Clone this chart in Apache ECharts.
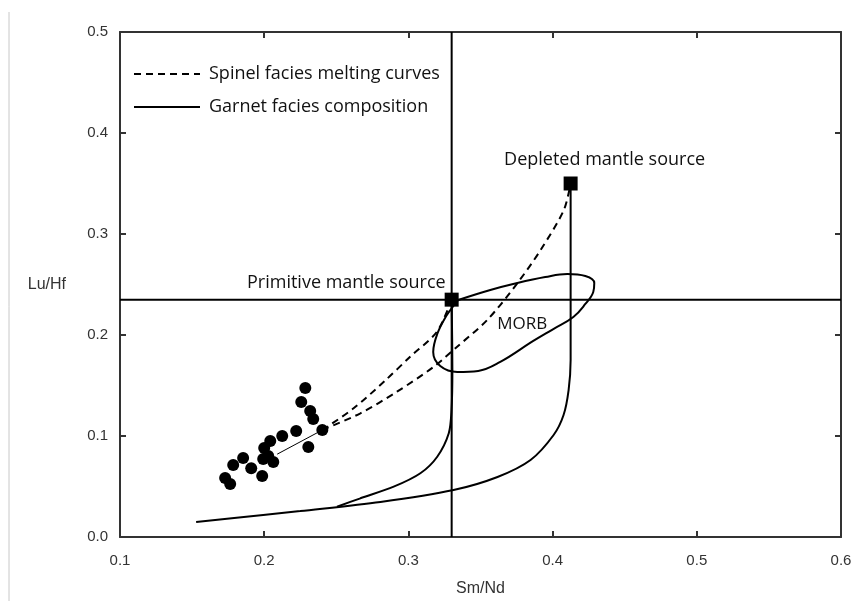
<!DOCTYPE html>
<html>
<head>
<meta charset="utf-8">
<title>Lu/Hf vs Sm/Nd</title>
<script src="https://cdn.jsdelivr.net/npm/echarts@6/dist/echarts.min.js"></script>
<style>
  html, body { margin: 0; padding: 0; background: #fff; }
  #chart { width: 853px; height: 601px; }
</style>
</head>
<body>
<div id="chart"></div>
<script>
// axis ticks
const xTicks = { min: 0.1, max: 0.6, interval: 0.1 }
const yTicks = { min: 0, max: 0.5, interval: 0.1 }

// sample points (Sm/Nd, Lu/Hf)
const samples = [
  [0.2285, 0.1475], [0.2257, 0.1337], [0.2319, 0.1248], [0.234, 0.1168],
  [0.2403, 0.1059], [0.2306, 0.0891], [0.2222, 0.105], [0.2125, 0.1],
  [0.2042, 0.095], [0.2, 0.0881], [0.2028, 0.0802], [0.2063, 0.0743],
  [0.1986, 0.0604], [0.1854, 0.0782], [0.1785, 0.0713], [0.1729, 0.0584],
  [0.1764, 0.0525], [0.191, 0.068], [0.1993, 0.0772]
]
const sampleTrend = [[0.209, 0.082], [0.2403, 0.1059]]

// spinel facies melting curves
const spinelToPrimitive = [
  [0.2403, 0.1059], [0.262, 0.1274], [0.284, 0.155], [0.3012, 0.1785],
  [0.3198, 0.2033], [0.33, 0.235]
]
const spinelToDepleted = [
  [0.2403, 0.1059], [0.2667, 0.1225], [0.2921, 0.1439], [0.3176, 0.1686],
  [0.3338, 0.1884], [0.3547, 0.2149], [0.3755, 0.2512], [0.3917, 0.2842],
  [0.4078, 0.3238], [0.4125, 0.35]
]

// garnet facies composition curves
const garnetFromPrimitive = [
  [0.33, 0.235], [0.3305, 0.1653], [0.3299, 0.1257], [0.328, 0.1027],
  [0.32, 0.0795], [0.3083, 0.0631], [0.2898, 0.0498], [0.2667, 0.0383],
  [0.2505, 0.03]
]
const garnetFromDepleted = [
  [0.4125, 0.35], [0.4125, 0.1752], [0.4111, 0.1455], [0.4076, 0.1208],
  [0.4007, 0.101], [0.3847, 0.0762], [0.3618, 0.0594], [0.3313, 0.0465],
  [0.2806, 0.0347], [0.225, 0.0257], [0.1993, 0.0218], [0.1528, 0.0149]
]

// MORB field outline
const morbField = [
  [0.3346, 0.2347], [0.3568, 0.2446], [0.3755, 0.2515], [0.3949, 0.2574],
  [0.4102, 0.2604], [0.4227, 0.2584], [0.4289, 0.2515], [0.4282, 0.2426],
  [0.4227, 0.2307], [0.4144, 0.2178], [0.4005, 0.2059], [0.3866, 0.1941],
  [0.3637, 0.1733], [0.3484, 0.1644], [0.3339, 0.1634], [0.3221, 0.1693],
  [0.3172, 0.1832], [0.32, 0.201], [0.3262, 0.2188], [0.3318, 0.2297],
  [0.3346, 0.2347]
]
const morbLabel = [0.379, 0.212]

// mantle sources
const primitiveSource = [0.33, 0.235]
const depletedSource = [0.4125, 0.35]

const SPINEL = 'Spinel facies melting curves'
const GARNET = 'Garnet facies composition'

const ink = '#000'
const labelFont = '"Open Sans", "DejaVu Sans", sans-serif'
const tickFont = '"Liberation Sans", Arial, sans-serif'

const chart = echarts.init(document.getElementById('chart'))

const axisCommon = {
  type: 'value',
  axisLine: { show: true, onZero: false, lineStyle: { color: '#333', width: 2 } },
  axisTick: { show: true, inside: true, length: 6, lineStyle: { color: '#333', width: 2 } },
  splitLine: { show: false }
}

const dashed = { color: ink, width: 2, type: [7, 5] }
const solid = { color: ink, width: 2 }

const option = {
  animation: false,
  backgroundColor: '#fff',
  grid: {
    left: 120, top: 32, width: 721, height: 505,
    containLabel: false, outerBoundsMode: 'none'
  },
  legend: {
    left: 128,
    top: 60,
    orient: 'vertical',
    itemWidth: 66,
    itemHeight: 14,
    itemGap: 15,
    selectedMode: false,
    itemStyle: { opacity: 0 },
    textStyle: { fontFamily: labelFont, fontSize: 18, lineHeight: 18, color: '#111', padding: [0, 0, 0, 4] },
    data: [SPINEL, GARNET]
  },
  xAxis: [
    {
      ...axisCommon,
      ...xTicks,
      position: 'bottom',
      name: 'Sm/Nd',
      nameLocation: 'middle',
      nameGap: 44,
      nameTextStyle: { fontFamily: tickFont, fontSize: 16, color: '#333' },
      axisLabel: { fontFamily: tickFont, fontSize: 15, color: '#333', margin: 16,
        formatter: (v) => v.toFixed(1) }
    },
    {
      ...axisCommon,
      ...xTicks,
      position: 'top',
      axisLabel: { show: false }
    }
  ],
  yAxis: [
    {
      ...axisCommon,
      ...yTicks,
      position: 'left',
      name: 'Lu/Hf',
      nameLocation: 'middle',
      nameRotate: 0,
      nameGap: 54,
      nameTextStyle: { fontFamily: tickFont, fontSize: 16, color: '#333' },
      axisLabel: { fontFamily: tickFont, fontSize: 15, color: '#333', margin: 12,
        formatter: (v) => v.toFixed(1) }
    },
    {
      ...axisCommon,
      ...yTicks,
      position: 'right',
      axisLabel: { show: false }
    }
  ],
  graphic: [
    {
      type: 'line',
      shape: { x1: 9, y1: 12, x2: 9, y2: 601 },
      style: { stroke: '#c8c8c8', lineWidth: 1 },
      silent: true
    }
  ],
  series: [
    {
      name: 'ref-x',
      type: 'line',
      data: [[primitiveSource[0], yTicks.min], [primitiveSource[0], yTicks.max]],
      symbol: 'none',
      lineStyle: solid,
      silent: true
    },
    {
      name: 'ref-y',
      type: 'line',
      data: [[xTicks.min, primitiveSource[1]], [xTicks.max, primitiveSource[1]]],
      symbol: 'none',
      lineStyle: solid,
      silent: true
    },
    {
      name: SPINEL,
      type: 'line',
      data: spinelToPrimitive,
      smooth: 0.3,
      symbol: 'none',
      itemStyle: { color: ink },
      lineStyle: dashed
    },
    {
      name: SPINEL,
      type: 'line',
      data: spinelToDepleted,
      smooth: 0.3,
      symbol: 'none',
      itemStyle: { color: ink },
      lineStyle: dashed
    },
    {
      name: GARNET,
      type: 'line',
      data: garnetFromPrimitive,
      smooth: 0.3,
      symbol: 'none',
      itemStyle: { color: ink },
      lineStyle: solid
    },
    {
      name: GARNET,
      type: 'line',
      data: garnetFromDepleted,
      smooth: 0.3,
      symbol: 'none',
      itemStyle: { color: ink },
      lineStyle: solid
    },
    {
      name: 'MORB',
      type: 'line',
      data: morbField,
      smooth: 0.4,
      symbol: 'none',
      lineStyle: solid
    },
    {
      name: 'trend',
      type: 'line',
      data: sampleTrend,
      symbol: 'none',
      lineStyle: { color: ink, width: 1 }
    },
    {
      name: 'samples',
      type: 'scatter',
      data: samples,
      symbol: 'circle',
      symbolSize: 12,
      itemStyle: { color: ink, opacity: 1 }
    },
    {
      name: 'MORB label',
      type: 'scatter',
      data: [morbLabel],
      symbolSize: 0,
      itemStyle: { color: ink, opacity: 1 },
      z: 6,
      label: {
        show: true,
        position: 'top',
        distance: -10,
        formatter: 'MORB',
        fontFamily: labelFont,
        fontSize: 17,
        color: '#111'
      }
    },
    {
      name: 'sources',
      type: 'scatter',
      symbol: 'rect',
      symbolSize: 14,
      itemStyle: { color: ink, opacity: 1 },
      z: 5,
      data: [
        {
          value: primitiveSource,
          label: {
            show: true, position: 'left', distance: -1, offset: [0, -17],
            formatter: 'Primitive mantle source'
          }
        },
        {
          value: depletedSource,
          label: {
            show: true, position: 'top', distance: 8, offset: [34, 0],
            formatter: 'Depleted mantle source'
          }
        }
      ],
      label: { fontFamily: labelFont, fontSize: 18, color: '#111' }
    }
  ]
}

chart.setOption(option)
</script>
</body>
</html>
